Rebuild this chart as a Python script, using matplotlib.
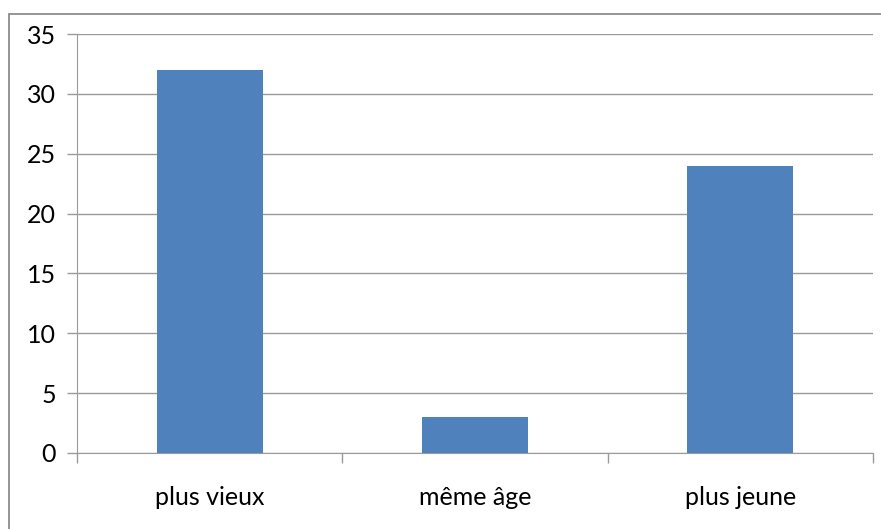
import matplotlib.pyplot as plt
from matplotlib.patches import Rectangle

# data
categories = ['plus vieux', 'même âge', 'plus jeune']
values = [32, 3, 24]
yticks = [0, 5, 10, 15, 20, 25, 30, 35]

plt.rcParams['font.family'] = ['Lato', 'DejaVu Sans']

W, H = 881, 529
fig = plt.figure(figsize=(W / 100, H / 100), dpi=100)
ax = fig.add_axes([77 / W, 1 - 453 / H, (873 - 77) / W, (453 - 34) / H])

# outer chart border (only top/left visible in the reference)
fig.patches.append(Rectangle((9 / W, -0.2), 1.2, 1.2 - 14 / H,
                             transform=fig.transFigure, fill=False,
                             edgecolor='#8c8c8c', linewidth=1.3))

x = range(len(categories))
ax.bar(x, values, width=0.4, color='#4f81bd', zorder=3)

ax.set_xlim(-0.5, 2.5)
ax.set_ylim(0, 35)
ax.set_yticks(yticks)
ax.yaxis.grid(True, color='#9a9a9a', linewidth=1.0, zorder=0)

# category labels centred, ticks at the boundaries
ax.set_xticks([-0.5, 0.5, 1.5, 2.5])
ax.set_xticklabels([])
ax.set_xticks(list(x), minor=True)
ax.set_xticklabels(categories, minor=True)
ax.tick_params(axis='x', which='minor', length=0, pad=24, labelsize=18)
ax.tick_params(axis='x', which='major', length=7, color='#9a9a9a', width=1.0, direction='out')
ax.tick_params(axis='y', length=7, color='#9a9a9a', width=1.0, pad=8, labelsize=18)

for s in ['top', 'right']:
    ax.spines[s].set_visible(False)
ax.spines['left'].set_color('#9a9a9a')
ax.spines['bottom'].set_color('#9a9a9a')

fig.savefig('out.png', dpi=100)
